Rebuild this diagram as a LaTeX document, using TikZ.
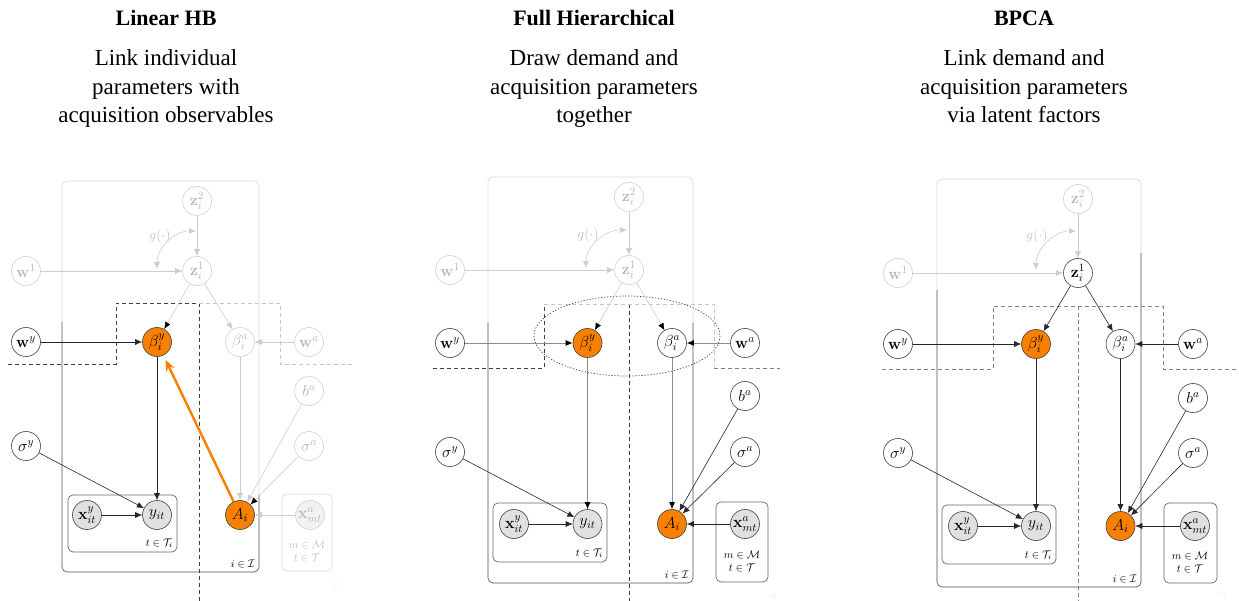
\RequirePackage{fix-cm}
\documentclass[tikz,border=0pt]{standalone}
\usepackage[no-math]{fontspec}
\usepackage{amsmath,amssymb}
\usetikzlibrary{arrows.meta}
\newfontfamily\slidefont{Liberation Serif}
\definecolor{hbOrange}{RGB}{247,128,0}
\definecolor{obsGray}{RGB}{224,224,224}

\begin{document}
\begin{tikzpicture}[
    x=1pt, y=-1pt,
    >={Latex[length=7pt,width=6pt]},
    var/.style={circle, draw=black!75, fill=white, minimum size=29pt, inner sep=0pt, line width=0.6pt, font=\fontsize{16}{18}\selectfont},
    obs/.style={var, fill=obsGray},
    hot/.style={var, fill=hbOrange},
    faded/.style={draw=black!18, text=black!28},
    fadedobs/.style={var, faded, fill=black!5},
    link/.style={->, draw=black!85, line width=0.6pt},
    flink/.style={link, draw=black!20},
    glink/.style={link, draw=black!45, line width=0.9pt},
    darktip/.style={-{Latex[length=7pt,width=6pt,color=black]}},
    garc/.style={flink, <->},
    glabel/.style={text=black!25, font=\fontsize{14}{16}\selectfont},
    hotlink/.style={-{Stealth[length=11pt,width=9pt]}, draw=hbOrange, line width=2.4pt, shorten >=5pt},
    plate/.style={draw=black!60, line width=0.7pt, rounded corners=5pt},
    fplate/.style={plate, draw=black!15},
    platelbl/.style={font=\fontsize{11}{13}\selectfont, inner sep=0pt},
    divider/.style={dash pattern=on 4pt off 3pt, draw=black!75, line width=0.7pt},
    mdivider/.style={divider, draw=black!50},
    fdivider/.style={divider, draw=black!22},
    title/.style={font=\slidefont\bfseries\fontsize{22}{26}\selectfont, anchor=base},
    blurb/.style={font=\slidefont\fontsize{23}{28.5}\selectfont, align=center, anchor=base},
    pagenum/.style={text=black!7, font=\sffamily\fontsize{7}{8}\selectfont}
]
\useasboundingbox (0,0) rectangle (1239,601);

% --- Linear HB ---
\node[title] (Lhead) at (166,26) {Linear HB};
\node[blurb] (Ltext) at (166,123) {Link individual\\parameters with\\acquisition observables};

\draw[fplate] (62,181) rectangle (259,572);
\draw[plate] (62,322) -- (62,572) -- (259,572) -- (259,495);
\draw[plate] (68,495) rectangle (177,552);
\draw[fplate] (282,494) rectangle (332,571);
\node[platelbl, anchor=south east] (LlblT) at (173,548) {$t\in\mathcal{T}_i$};
\node[platelbl, anchor=south east] (LlblI) at (255,568) {$i\in\mathcal{I}$};
\node[platelbl, text=black!25, align=center] (LlblM) at (307,551) {$m\in\mathcal{M}$\\$t\in\mathcal{T}$};

\draw[divider] (8,364) -- (116,364) -- (116,303) -- (199,303) -- (199,601);
\draw[fdivider] (199,303) -- (280,303) -- (280,364) -- (355,364);

\node[var, faded] (Lz2) at (197,201) {$\mathbf{z}_i^2$};
\node[var, faded] (Lz1) at (197,271) {$\mathbf{z}_i^1$};
\node[var, faded] (Lw1) at (26,271) {$\mathbf{w}^1$};
\node[var] (Lwy) at (26,342) {$\mathbf{w}^y$};
\node[hot] (Lbety) at (157,342) {$\beta_i^y$};
\node[var, faded] (Lbeta) at (240,342) {$\beta_i^a$};
\node[var, faded] (Lwa) at (309,342) {$\mathbf{w}^a$};
\node[var, faded] (Lba) at (309,391) {$b^a$};
\node[var, faded] (Lsiga) at (309,446) {$\sigma^a$};
\node[var] (Lsigy) at (26,446) {$\sigma^y$};
\node[obs] (Lxy) at (87,515) {$\mathbf{x}_{it}^y$};
\node[obs] (Ly) at (157,515) {$y_{it}$};
\node[hot] (LA) at (240,515) {$A_i$};
\node[fadedobs] (Lxa) at (310,515) {$\mathbf{x}_{mt}^a$};

\coordinate (Lg1) at (157,269);
\coordinate (Lg2) at (196,231);
\draw[garc] (Lg1) .. controls (157,248) and (174,231) .. (Lg2);
\node[glabel] (Lg) at (160,236) {$g(\cdot)$};

\foreach \a/\b in {Lz2/Lz1, Lw1/Lz1, Lz1/Lbeta, Lwa/Lbeta, Lbeta/LA, Lba/LA, Lxa/LA}
    \draw[flink] (\a) -- (\b);
\foreach \a/\b in {Lz1/Lbety, Lsiga/LA}
    \draw[flink, darktip] (\a) -- (\b);
\foreach \a/\b in {Lwy/Lbety, Lbety/Ly, Lsigy/Ly, Lxy/Ly}
    \draw[link] (\a) -- (\b);
\draw[hotlink] (LA) -- (Lbety);

\node[pagenum] (Lpage) at (337,585) {21};

% --- Full Hierarchical ---
\node[title] (Fhead) at (594,26) {Full Hierarchical};
\node[blurb] (Ftext) at (594,123) {Draw demand and\\acquisition parameters\\together};

\draw[fplate] (488,177) rectangle (693,583);
\draw[plate] (488,323) -- (488,583) -- (693,583) -- (693,323);
\draw[plate] (493,503) rectangle (607,562);
\draw[plate] (716,502) rectangle (768,582);
\node[platelbl, anchor=south east] (FlblT) at (603,558) {$t\in\mathcal{T}_i$};
\node[platelbl, anchor=south east] (FlblI) at (689,579) {$i\in\mathcal{I}$};
\node[platelbl, align=center] (FlblM) at (742,561) {$m\in\mathcal{M}$\\$t\in\mathcal{T}$};

\draw[divider] (433,368) -- (544,368) -- (544,304);
\draw[divider] (629,304) -- (629,601);
\draw[fdivider] (544,304) -- (714,304) -- (714,368);
\draw[mdivider] (714,368) -- (780,368);

\node[var, faded] (Fz2) at (629,197) {$\mathbf{z}_i^2$};
\node[var, faded] (Fz1) at (629,270) {$\mathbf{z}_i^1$};
\node[var, faded] (Fw1) at (450,270) {$\mathbf{w}^1$};
\node[var] (Fwy) at (450,343) {$\mathbf{w}^y$};
\node[hot] (Fbety) at (587.5,343) {$\beta_i^y$};
\node[var] (Fbeta) at (672,343) {$\beta_i^a$};
\node[var] (Fwa) at (745,343) {$\mathbf{w}^a$};
\node[var] (Fba) at (745,396) {$b^a$};
\node[var] (Fsiga) at (745,452) {$\sigma^a$};
\node[var] (Fsigy) at (450,452) {$\sigma^y$};
\node[obs] (Fxy) at (514,524) {$\mathbf{x}_{it}^y$};
\node[obs] (Fy) at (587.5,524) {$y_{it}$};
\node[hot] (FA) at (672,524) {$A_i$};
\node[obs] (Fxa) at (745,524) {$\mathbf{x}_{mt}^a$};

\draw[black!75, line width=0.7pt, dash pattern=on 1.2pt off 1.8pt] (627,336) ellipse [x radius=93, y radius=40];

\coordinate (Fg1) at (586,268);
\coordinate (Fg2) at (627,230);
\draw[garc] (Fg1) .. controls (586,247) and (604,230) .. (Fg2);
\node[glabel] (Fg) at (588,235) {$g(\cdot)$};

\foreach \a/\b in {Fz2/Fz1, Fw1/Fz1}
    \draw[flink] (\a) -- (\b);
\foreach \a/\b in {Fz1/Fbety, Fz1/Fbeta}
    \draw[flink, darktip] (\a) -- (\b);
\foreach \a/\b in {Fwy/Fbety, Fwa/Fbeta, Fbety/Fy, Fbeta/FA}
    \draw[glink, darktip] (\a) -- (\b);
\foreach \a/\b in {Fsigy/Fy, Fxy/Fy, Fba/FA, Fsiga/FA, Fxa/FA}
    \draw[link] (\a) -- (\b);

\node[pagenum] (Fpage) at (773,597) {22};

% --- BPCA ---
\node[title] (Bhead) at (1024,26) {BPCA};
\node[blurb] (Btext) at (1024,123) {Link demand and\\acquisition parameters\\via latent factors};

\draw[fplate] (937,179) rectangle (1141,587);
\draw[plate] (937,290) -- (937,587) -- (1141,587) -- (1141,253);
\draw[plate] (942,505) rectangle (1056,564);
\draw[plate] (1164,503) rectangle (1217,583);
\node[platelbl, anchor=south east] (BlblT) at (1052,560) {$t\in\mathcal{T}_i$};
\node[platelbl, anchor=south east] (BlblI) at (1137,583) {$i\in\mathcal{I}$};
\node[platelbl, align=center] (BlblM) at (1190,562) {$m\in\mathcal{M}$\\$t\in\mathcal{T}$};

\draw[mdivider] (882,369) -- (993,369) -- (993,306) -- (1078,306) -- (1078,601);
\draw[mdivider] (1078,306) -- (1163,306) -- (1163,369) -- (1239,369);

\node[var, faded] (Bz2) at (1078,199) {$\mathbf{z}_i^2$};
\node[var] (Bz1) at (1078,273) {$\mathbf{z}_i^1$};
\node[var, faded] (Bw1) at (898,273) {$\mathbf{w}^1$};
\node[var] (Bwy) at (898,344) {$\mathbf{w}^y$};
\node[hot] (Bbety) at (1036,344) {$\beta_i^y$};
\node[var] (Bbeta) at (1120.5,344) {$\beta_i^a$};
\node[var] (Bwa) at (1193,344) {$\mathbf{w}^a$};
\node[var] (Bba) at (1193,398) {$b^a$};
\node[var] (Bsiga) at (1193,453) {$\sigma^a$};
\node[var] (Bsigy) at (898,453) {$\sigma^y$};
\node[obs] (Bxy) at (963,526) {$\mathbf{x}_{it}^y$};
\node[obs] (By) at (1036,526) {$y_{it}$};
\node[hot] (BA) at (1120.5,526) {$A_i$};
\node[obs] (Bxa) at (1195,526) {$\mathbf{x}_{mt}^a$};

\coordinate (Bg1) at (1036,270);
\coordinate (Bg2) at (1076,231);
\draw[garc] (Bg1) .. controls (1036,249) and (1054,231) .. (Bg2);
\node[glabel] (Bg) at (1037,236) {$g(\cdot)$};

\foreach \a/\b in {Bz2/Bz1, Bw1/Bz1}
    \draw[flink] (\a) -- (\b);
\foreach \a/\b in {Bz1/Bbety, Bz1/Bbeta, Bwy/Bbety, Bwa/Bbeta, Bbety/By, Bbeta/BA, Bsigy/By, Bxy/By, Bba/BA, Bsiga/BA, Bxa/BA}
    \draw[link] (\a) -- (\b);

\node[pagenum] (Bpage) at (1222,594) {23};

\end{tikzpicture}
\end{document}
